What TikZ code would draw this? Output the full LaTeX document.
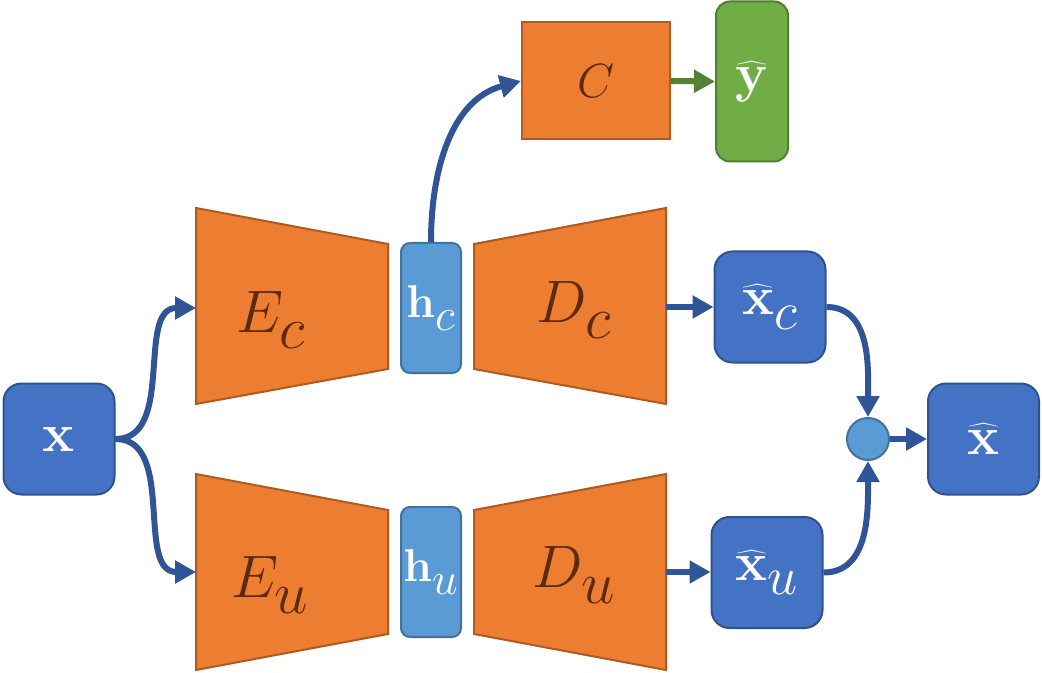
\RequirePackage{fix-cm}
\documentclass[tikz,border=0pt]{standalone}
\usepackage{tikz}
\usetikzlibrary{arrows.meta,calc,positioning}

\definecolor{orng}{HTML}{ED7D31}
\definecolor{orngdk}{HTML}{AE5A21}
\definecolor{brwn}{HTML}{5C2A0C}
\definecolor{blueb}{HTML}{4472C4}
\definecolor{bluedk}{HTML}{2F528F}
\definecolor{bluelt}{HTML}{5B9BD5}
\definecolor{bluelb}{HTML}{41719C}
\definecolor{arrblue}{HTML}{2F5597}
\definecolor{grn}{HTML}{70AD47}
\definecolor{grndk}{HTML}{507E32}
\definecolor{grnarr}{HTML}{548235}

\newcommand{\bigsub}[1]{_{\raisebox{-0.12em}{$#1$}}}

\begin{document}
\begin{tikzpicture}[x=0.5pt, y=-0.5pt,
    box/.style={draw=bluedk, fill=blueb, line width=1pt, rounded corners=9pt, text=white,
      minimum width=55.5pt, minimum height=55.5pt, inner sep=0pt, font=\fontsize{27}{32}\selectfont},
    code/.style={draw=bluelb, fill=bluelt, line width=1pt, rounded corners=4.5pt, text=white,
      minimum width=30pt, minimum height=65pt, inner sep=0pt, font=\fontsize{23}{28}\selectfont},
    net/.style={draw=orngdk, fill=orng, line width=1pt},
    lbl/.style={text=brwn, font=\fontsize{30}{36}\selectfont},
    arr/.style={draw=arrblue, line width=3pt, -{Triangle[length=10.5pt, width=11pt]}},
    garr/.style={draw=grnarr, line width=3pt, -{Triangle[length=10.5pt, width=11pt]}}]
  \useasboundingbox (0,0) rectangle (1042,673);
  \draw[net] (196,208) -- (388,244) -- (388,369) -- (196,404) -- cycle;
  \draw[net] (474,244) -- (666,208) -- (666,404) -- (474,369) -- cycle;
  \draw[net] (196,474) -- (388,510) -- (388,634) -- (196,670) -- cycle;
  \draw[net] (474,510) -- (666,474) -- (666,670) -- (474,634) -- cycle;
  \node[lbl] (ec) at (271,320) {$E\bigsub{c}$};
  \node[lbl] (dc) at (574,310) {$D\bigsub{c}$};
  \node[lbl] (eu) at (270,585) {$E\bigsub{u}$};
  \node[lbl] (du) at (574,575) {$D\bigsub{u}$};
  \coordinate (ecin) at (196,308);
  \coordinate (euin) at (196,572);
  \coordinate (dcout) at (666,307);
  \coordinate (duout) at (666,572);
  \node[box] (x) at (59,439) {$\mathbf{x}$};
  \node[code] (hc) at (431,308) {$\mathbf{h}\bigsub{c}$};
  \node[code] (hu) at (431,572) {$\mathbf{h}\bigsub{u}$};
  \node[net, minimum width=74pt, minimum height=58.5pt, lbl, font=\fontsize{24}{30}\selectfont] (C) at (596,81) {$C$};
  \node[box, draw=grndk, fill=grn, rounded corners=7pt, minimum width=36pt, minimum height=80pt] (yh) at (752,81.5) {$\widehat{\mathbf{y}}$};
  \node[box] (xc) at (770,307) {$\widehat{\mathbf{x}}\bigsub{c}$};
  \node[box] (xu) at (767,572.5) {$\widehat{\mathbf{x}}\bigsub{u}$};
  \node[circle, draw=bluelb, fill=bluelt, line width=1pt, minimum size=21pt, inner sep=0pt] (sum) at (868,439) {};
  \node[box] (xh) at (983.5,439) {$\widehat{\mathbf{x}}$};
  \draw[arr] (x.east) to[out=0, in=180] (ecin);
  \draw[arr] (x.east) to[out=0, in=180] (euin);
  \draw[arr] (hc.north) to[out=90, in=195] (C.west);
  \draw[garr] (C.east) -- (yh.west);
  \draw[arr] (dcout) -- (xc.west |- dcout);
  \draw[arr] (duout) -- (xu.west |- duout);
  \draw[arr] (xc.east) to[out=0, in=90] (sum.north);
  \draw[arr] (xu.east) to[out=0, in=-90] (sum.south);
  \draw[arr] (sum.east) -- (xh.west);
\end{tikzpicture}
\end{document}
